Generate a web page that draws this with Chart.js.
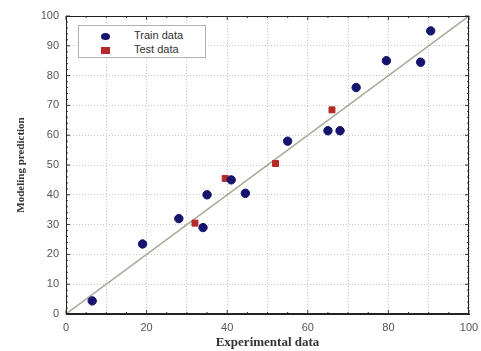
<!DOCTYPE html>
<html lang="en">
<head>
  <meta charset="UTF-8" />
  <title>Modeling prediction vs experimental data</title>
  <script src="https://cdn.jsdelivr.net/npm/chart.js"></script>
  <style>
    body {
      margin: 0;
      background: #ffffff;
    }
    .wrap {
      position: relative;
      width: 481px;
      height: 351px;
    }
    .legend {
      position: absolute;
      left: 78px;
      top: 25px;
      width: 126px;
      height: 31px;
      border: 1px solid #b0b0b0;
      background: #ffffff;
      font-family: "Liberation Sans", Arial, sans-serif;
      font-size: 11px;
      color: #333;
    }
    .legend div {
      position: absolute;
      left: 22px;
      height: 14px;
      line-height: 14px;
    }
    .legend span.mk {
      display: inline-block;
      width: 9px;
      height: 7px;
      margin-right: 24px;
      vertical-align: middle;
    }
  </style>
</head>
<body>
  <div class="wrap">
    <canvas id="chart" width="481" height="351"></canvas>
    <div class="legend">
      <div style="top:2px"><span class="mk" style="background:#14146e;border-radius:50%"></span>Train data</div>
      <div style="top:16px"><span class="mk" style="background:#b42828"></span>Test data</div>
    </div>
  </div>

  <script>
    // values
    const trainX = [6.5, 19, 28, 34, 35, 41, 44.5, 55, 65, 68, 72, 79.5, 88, 90.5];
    const trainY = [4.4, 23.5, 32, 29, 40, 45, 40.5, 58, 61.5, 61.5, 76, 85, 84.5, 95];
    const testX = [32, 39.5, 52, 66];
    const testY = [30.5, 45.5, 50.5, 68.5];
    const fitX = [0, 100];
    const fitY = [0, 100];

    const toPts = (xs, ys) => xs.map((x, i) => ({ x: x, y: ys[i] }));

    // small inward ticks like the original figure
    const innerTicks = {
      id: 'innerTicks',
      afterDraw(chart) {
        const { ctx, chartArea: a, scales } = chart;
        ctx.save();
        ctx.strokeStyle = '#333';
        ctx.lineWidth = 1;
        for (let v = 0; v <= 100; v += 5) {
          const px = scales.x.getPixelForValue(v);
          const len = v % 20 === 0 ? 4 : 2;
          ctx.beginPath();
          ctx.moveTo(px, a.bottom); ctx.lineTo(px, a.bottom - len);
          ctx.moveTo(px, a.top); ctx.lineTo(px, a.top + len);
          ctx.stroke();
        }
        for (let v = 0; v <= 100; v += 2) {
          const py = scales.y.getPixelForValue(v);
          const len = v % 10 === 0 ? 4 : 2;
          ctx.beginPath();
          ctx.moveTo(a.left, py); ctx.lineTo(a.left + len, py);
          ctx.moveTo(a.right, py); ctx.lineTo(a.right - len, py);
          ctx.stroke();
        }
        ctx.restore();
      }
    };

    new Chart(document.getElementById('chart'), {
      type: 'scatter',
      data: {
        datasets: [
          {
            label: 'Fit',
            type: 'line',
            data: toPts(fitX, fitY),
            borderColor: '#aaaa98',
            borderWidth: 1.5,
            pointRadius: 0,
            order: 3
          },
          {
            label: 'Train data',
            data: toPts(trainX, trainY),
            backgroundColor: '#14146e',
            borderColor: '#14146e',
            pointRadius: 4.2,
            pointStyle: 'circle',
            order: 1
          },
          {
            label: 'Test data',
            data: toPts(testX, testY),
            backgroundColor: '#b42828',
            borderColor: '#b42828',
            pointRadius: 4.2,
            pointStyle: 'rect',
            order: 2
          }
        ]
      },
      options: {
        responsive: false,
        animation: false,
        layout: { padding: { top: 16, right: 12, left: 0, bottom: 0 } },
        plugins: {
          legend: { display: false },
          tooltip: { enabled: false }
        },
        scales: {
          x: {
            type: 'linear',
            min: 0,
            max: 100,
            afterFit: (s) => { s.height = 37; s.paddingRight = 0; s.paddingLeft = 0; },
            ticks: {
              stepSize: 10,
              autoSkip: false,
              maxRotation: 0,
              padding: 7,
              color: '#555',
              font: { family: 'Liberation Sans', size: 11 },
              callback: (v) => (v % 20 === 0 ? v : '')
            },
            grid: {
              color: '#c8c8c8',
              lineWidth: 1,
              tickLength: 0,
              drawTicks: false
            },
            border: { display: true, color: '#222', width: 1, dash: [1, 2] },
            title: {
              display: true,
              text: 'Experimental data',
              color: '#333',
              padding: { top: 0, bottom: 1 },
              font: { family: 'Liberation Serif', size: 13, weight: 'bold' }
            }
          },
          y: {
            type: 'linear',
            min: 0,
            max: 100,
            afterFit: (s) => { s.width = 66; },
            ticks: {
              stepSize: 10,
              padding: 7,
              color: '#555',
              font: { family: 'Liberation Sans', size: 11 }
            },
            grid: {
              color: '#c8c8c8',
              lineWidth: 1,
              tickLength: 0,
              drawTicks: false
            },
            border: { display: true, color: '#222', width: 1, dash: [1, 2] },
            title: {
              display: true,
              text: 'Modeling prediction',
              color: '#333',
              padding: { top: 15, bottom: 0 },
              font: { family: 'Liberation Serif', size: 11, weight: 'bold' }
            }
          }
        }
      },
      plugins: [innerTicks, {
        id: 'frame',
        afterDraw(chart) {
          const { ctx, chartArea: a } = chart;
          ctx.save();
          ctx.strokeStyle = '#222';
          ctx.lineWidth = 1;
          ctx.strokeRect(a.left + 0.5, a.top + 0.5, a.right - a.left - 1, a.bottom - a.top - 1);
          ctx.restore();
        }
      }]
    });
  </script>
</body>
</html>
